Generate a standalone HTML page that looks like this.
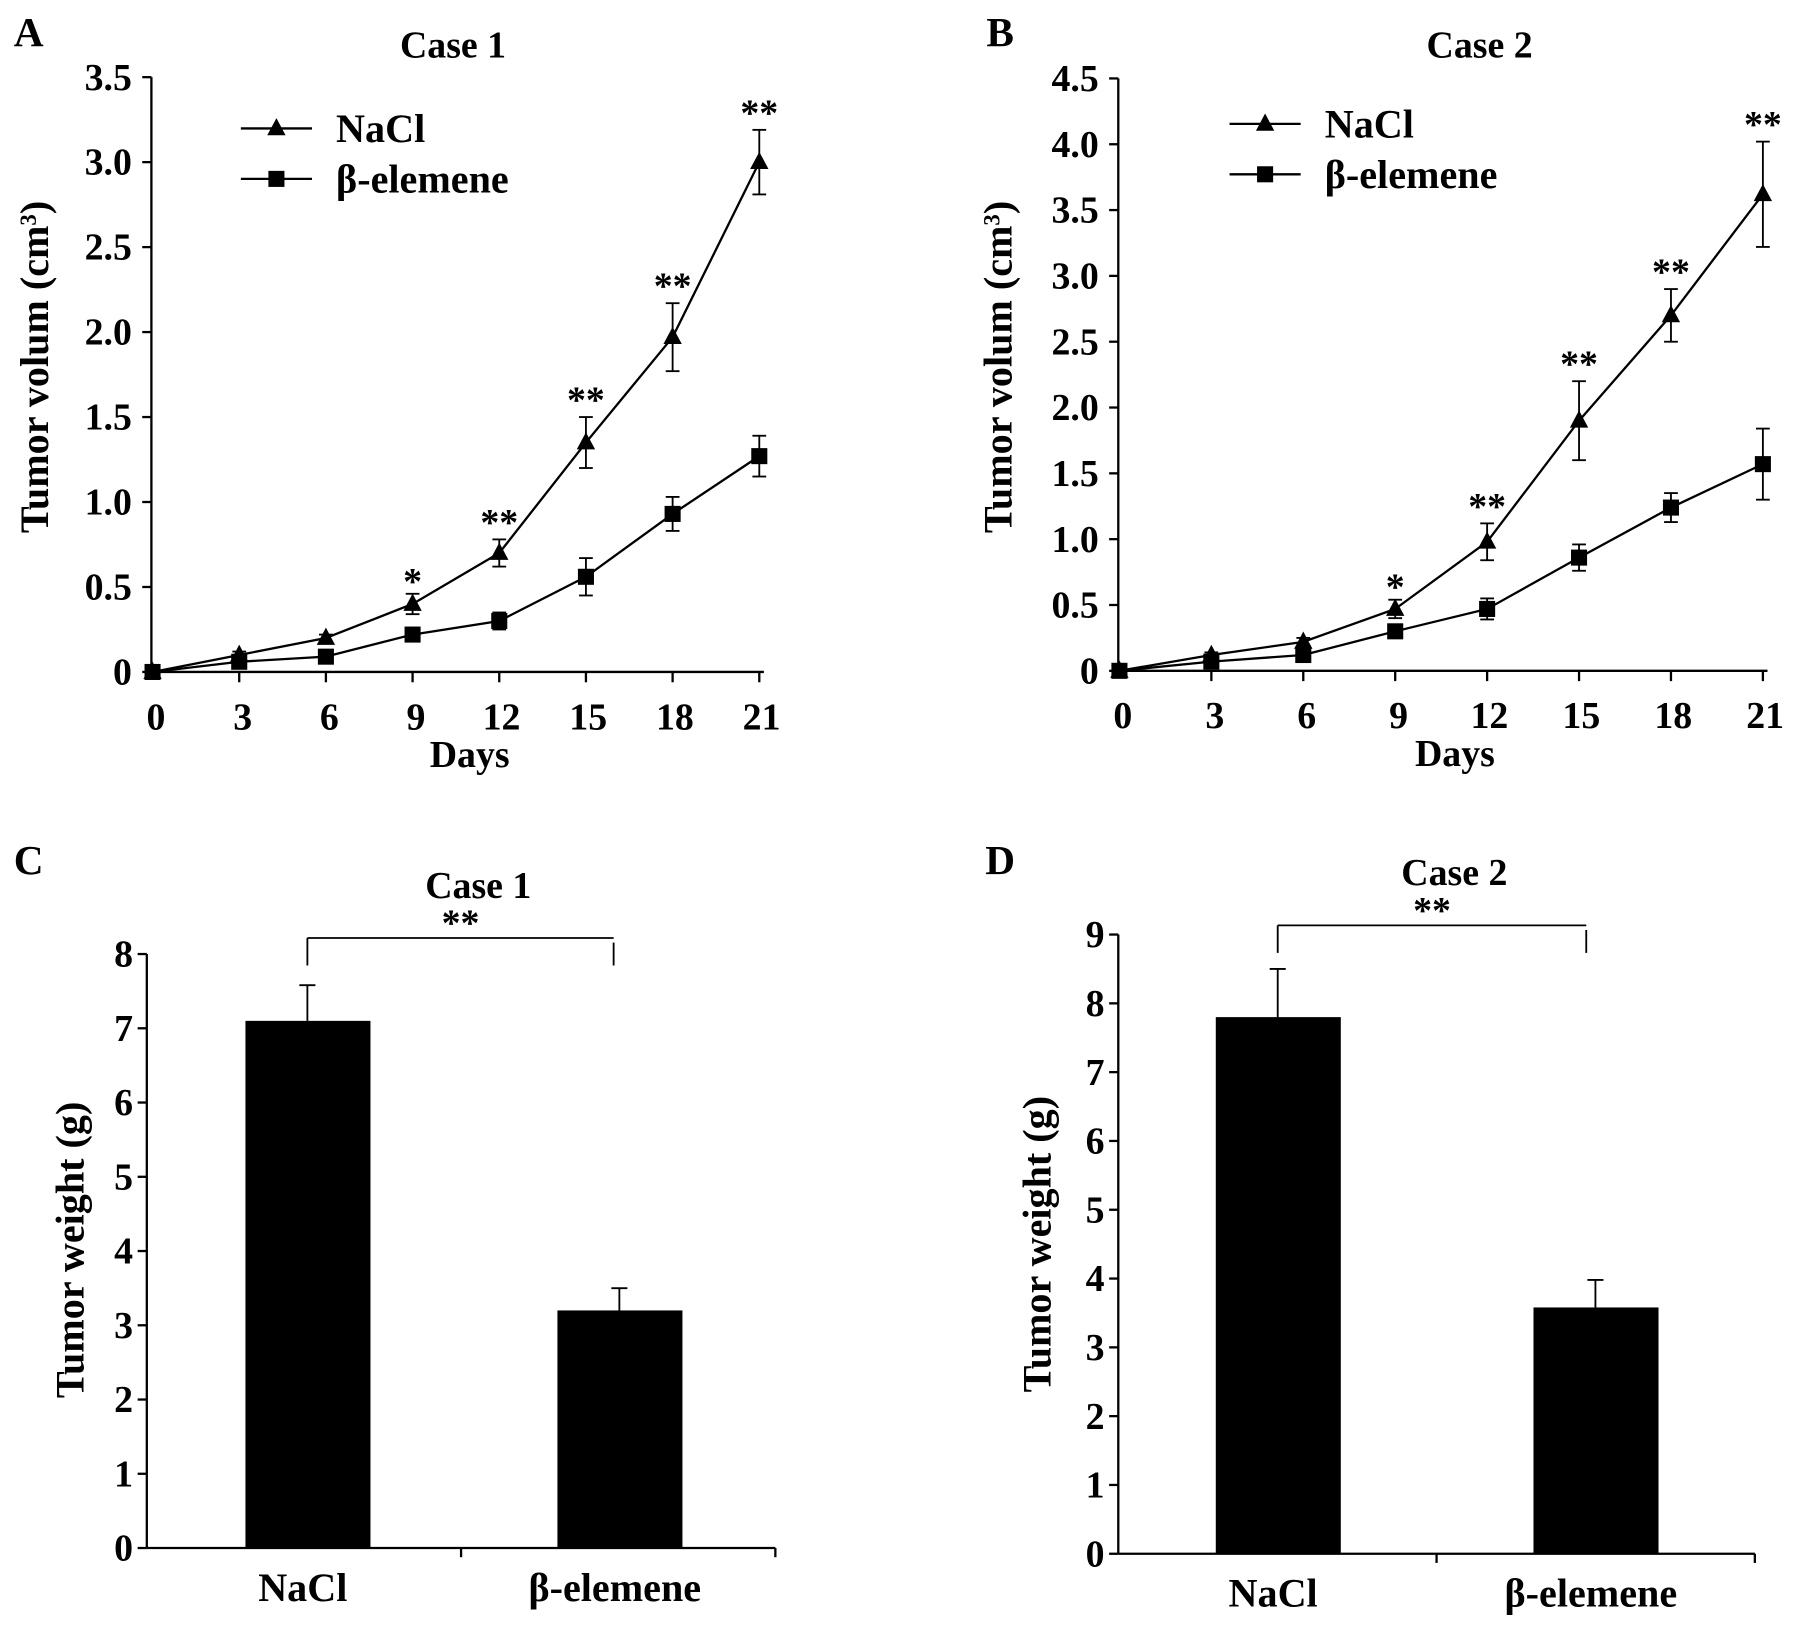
<!DOCTYPE html>
<html><head><meta charset="utf-8"><style>
html,body{margin:0;padding:0;background:#fff}
svg{display:block}
text{font-family:"Liberation Serif",serif;font-weight:bold;fill:#000}
</style></head><body>
<svg id="fig" width="1795" height="1626" viewBox="0 0 1565 1418" preserveAspectRatio="none" xmlns="http://www.w3.org/2000/svg"></svg>
<script>
const days = [0,3,6,9,12,15,18,21];
const naclA = [0,0.1,0.2,0.4,0.7,1.35,1.97,3.0];
const naclAErr = [0,0.02,0.02,0.06,0.08,0.15,0.2,0.19];
const betaA = [0,0.06,0.09,0.22,0.30,0.56,0.93,1.27];
const betaAErr = [0,0.02,0.02,0.04,0.05,0.11,0.1,0.12];
const starsA = ["","","","*","**","**","**","**"];
const naclB = [0,0.12,0.22,0.47,0.98,1.9,2.7,3.62];
const naclBErr = [0,0.02,0.03,0.07,0.14,0.3,0.2,0.4];
const betaB = [0,0.07,0.12,0.3,0.47,0.86,1.24,1.57];
const betaBErr = [0,0.02,0.03,0.04,0.08,0.1,0.11,0.27];
const starsB = ["","","","*","**","**","**","**"];
const yTicksA = ["0","0.5","1.0","1.5","2.0","2.5","3.0","3.5"];
const yTicksB = ["0","0.5","1.0","1.5","2.0","2.5","3.0","3.5","4.0","4.5"];
const groups = ["NaCl","β-elemene"];
const weightC = [7.1,3.2];
const weightCErr = [0.48,0.3];
const weightD = [7.8,3.58];
const weightDErr = [0.7,0.4];
const yTicksC = ["0","1","2","3","4","5","6","7","8"];
const yTicksD = ["0","1","2","3","4","5","6","7","8","9"];

const svg = document.getElementById('fig');
const NS = "http://www.w3.org/2000/svg";
function el(tag, attrs, name, txt){
  const e = document.createElementNS(NS, tag);
  for (const k in attrs) e.setAttribute(k, attrs[k]);
  
  
  if (txt !== undefined) e.textContent = txt;
  svg.appendChild(e); return e;
}
function line(x1,y1,x2,y2,name,w){ return el('line',{x1,y1,x2,y2,stroke:'#000','stroke-width':w||2},name); }
function tri(x,y,name){ el('polygon',{points:`${x},${y-9} ${x-8},${y+6} ${x+8},${y+6}`,fill:'#000'},name); }
function sq(x,y,name){ el('rect',{x:x-7,y:y-7,width:14,height:14,fill:'#000'},name); }

function linePanel(o){
  const sx = d => o.x0 + (d/21)*(o.x21-o.x0);
  const sy = v => o.y0 - v/o.step*o.pxStep;
  line(o.x0-1, o.y0-(o.yt.length-1)*o.pxStep, o.x0-1, o.y0, 'y-axis');
  line(o.x0-1, o.y0, o.x21+4, o.y0, 'x-axis');
  o.yt.forEach((t,i)=>{ const y = o.y0 - i*o.pxStep;
    line(o.x0-9, y, o.x0-1, y, 'y-tick');
    el('text',{x:o.x0-18,y:y+11,'text-anchor':'end','font-size':33},'y-tick-label',t); });
  days.forEach(d=>{ const x=sx(d);
    if(d>0) line(x,o.y0,x,o.y0+9,'x-tick');
    el('text',{x:x+(d>=10?2:3),y:o.y0+50,'text-anchor':'middle','font-size':33},'x-tick-label',String(d)); });
  el('text',{x:(o.x0+o.x21)/2+12,y:o.y0+83,'text-anchor':'middle','font-size':33},'x-axis-title','Days');
  el('text',{x:o.title[0],y:o.title[1],'text-anchor':'middle','font-size':33},'chart-title',o.titleText);
  el('text',{x:o.letter[0],y:o.letter[1],'text-anchor':'middle','font-size':36},'panel-label',o.letterText);
  const yl = el('text',{x:0,y:0,'text-anchor':'middle','font-size':35,transform:`translate(${o.ylab[0]},${o.ylab[1]}) rotate(-90)`},'y-axis-title','Tumor volum (cm');
  const ts = document.createElementNS(NS,'tspan'); ts.setAttribute('baseline-shift','super'); ts.setAttribute('font-size','20'); ts.textContent='3'; yl.appendChild(ts);
  const ts2 = document.createElementNS(NS,'tspan'); ts2.textContent=')'; yl.appendChild(ts2);
  [[o.nacl,o.naclErr,'nacl',tri],[o.beta,o.betaErr,'beta',sq]].forEach(([vals,errs,nm,mk])=>{
    el('polyline',{points:vals.map((v,i)=>sx(days[i])+','+sy(v)).join(' '),fill:'none',stroke:'#000','stroke-width':2},nm+'-line');
    vals.forEach((v,i)=>{ const x=sx(days[i]);
      if(errs[i]>0){ line(x,sy(v-errs[i]),x,sy(v+errs[i]),nm+'-error-bar',1.6);
        line(x-6,sy(v+errs[i]),x+6,sy(v+errs[i]),nm+'-error-cap',1.6);
        line(x-6,sy(v-errs[i]),x+6,sy(v-errs[i]),nm+'-error-cap',1.6); }
      mk(x,sy(v),nm+'-point'); });
  });
  o.stars.forEach((s,i)=>{ if(!s) return; const v=o.nacl[i]+o.naclErr[i];
    el('text',{x:sx(days[i]),y:sy(v)-4+(s==='*'?4:0),'text-anchor':'middle','font-size':33},'significance-mark',s); });
  const L=o.leg;
  line(L[0],L[1],L[0]+62,L[1],'legend-line-nacl'); tri(L[0]+31,L[1],'legend-marker-nacl');
  el('text',{x:L[0]+83,y:L[1]+12,'font-size':35},'legend-label-nacl','NaCl');
  line(L[0],L[1]+44,L[0]+62,L[1]+44,'legend-line-beta'); sq(L[0]+31,L[1]+44,'legend-marker-beta');
  el('text',{x:L[0]+83,y:L[1]+56,'font-size':35},'legend-label-beta','β-elemene');
}
linePanel({x0:133,x21:662,y0:586,step:0.5,pxStep:74.1,yt:yTicksA,nacl:naclA,naclErr:naclAErr,beta:betaA,betaErr:betaAErr,stars:starsA,
  title:[395,50],titleText:'Case 1',letter:[25,40],letterText:'A',ylab:[42,320],leg:[210,112]});
linePanel({x0:976,x21:1537,y0:585,step:0.5,pxStep:57.4,yt:yTicksB,nacl:naclB,naclErr:naclBErr,beta:betaB,betaErr:betaBErr,stars:starsB,
  title:[1290,50],titleText:'Case 2',letter:[872,40],letterText:'B',ylab:[882,320],leg:[1072,108]});

function barPanel(o){
  const sy = v => o.y0 - v*o.px;
  line(o.x0,sy(o.yt.length-1),o.x0,o.y0,'y-axis');
  line(o.x0,o.y0,o.xEnd,o.y0,'x-axis');
  line((o.x0+o.xEnd)/2,o.y0,(o.x0+o.xEnd)/2,o.y0+8,'x-tick');
  line(o.xEnd,o.y0,o.xEnd,o.y0+8,'x-tick');
  o.yt.forEach((t,i)=>{ const y=sy(i);
    line(o.x0-8,y,o.x0,y,'y-tick');
    el('text',{x:o.x0-12,y:y+11,'text-anchor':'end','font-size':33},'y-tick-label',t); });
  groups.forEach((g,i)=>{ const c=o.cx[i], v=o.vals[i], e=o.errs[i];
    el('rect',{x:c-54,y:sy(v),width:109,height:o.y0-sy(v),fill:'#000'},'bar-'+(i?'beta':'nacl'));
    line(c,sy(v),c,sy(v+e),'error-bar',1.6); line(c-7,sy(v+e),c+7,sy(v+e),'error-cap',1.6);
    el('text',{x:c-4,y:o.y0+46,'text-anchor':'middle','font-size':35},'x-tick-label',g); });
  const b=o.br;
  line(o.cx[0],b,o.br2,b,'significance-bracket',1.6);
  line(o.cx[0],b,o.cx[0],b+24,'bracket-tick',1.6); line(o.br2,b+4,o.br2,b+24,'bracket-tick',1.6);
  el('text',{x:(o.cx[0]+o.br2)/2,y:b-2,'text-anchor':'middle','font-size':33},'significance-mark','**');
  el('text',{x:o.title[0],y:o.title[1],'text-anchor':'middle','font-size':33},'chart-title',o.titleText);
  el('text',{x:o.letter[0],y:o.letter[1],'text-anchor':'middle','font-size':36},'panel-label',o.letterText);
  el('text',{x:0,y:0,'text-anchor':'middle','font-size':35,transform:`translate(${o.ylab[0]},${o.ylab[1]}) rotate(-90)`},'y-axis-title','Tumor weight (g)');
}
barPanel({x0:128,xEnd:676,y0:1350,px:64.75,yt:yTicksC,vals:weightC,errs:weightCErr,cx:[268,540],br:818,br2:535,
  title:[417,783],titleText:'Case 1',letter:[25,762],letterText:'C',ylab:[73,1090]});
barPanel({x0:975,xEnd:1530,y0:1355,px:60,yt:yTicksD,vals:weightD,errs:weightDErr,cx:[1114,1391],br:807,br2:1383,
  title:[1268,772],titleText:'Case 2',letter:[872,762],letterText:'D',ylab:[916,1085]});
</script>
</body></html>
